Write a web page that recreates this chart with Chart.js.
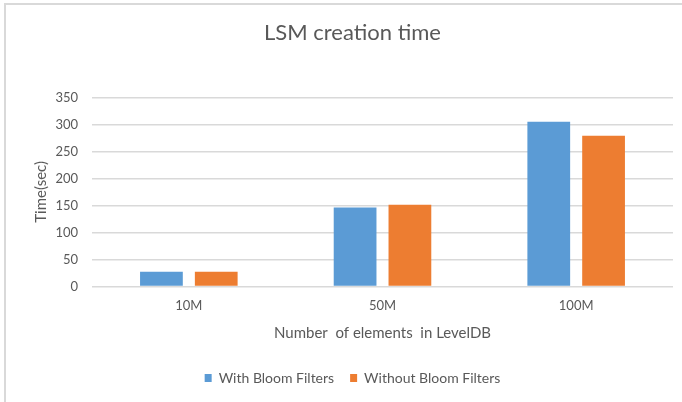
<!DOCTYPE html>
<html>
<head>
<meta charset="utf-8">
<script src="https://cdn.jsdelivr.net/npm/chart.js@4"></script>
<style>
  html, body { margin: 0; padding: 0; background: #ffffff; }
  #wrap { width: 682px; height: 402px; position: relative; }
</style>
</head>
<body>
<div id="wrap"><canvas id="c" width="682" height="402"></canvas></div>
<script>
// Categories and series
const categories = ['10M', '50M', '100M'];
const withBloom = [27, 146, 305];
const withoutBloom = [27, 151, 279];
const seriesNames = ['With Bloom Filters', 'Without Bloom Filters'];
const yTicks = [0, 50, 100, 150, 200, 250, 300, 350];

const textColor = '#595959';
const gridColor = '#d9d9d9';
const fontFamily = 'Lato, "Open Sans", sans-serif';

// Thin frame along the top and left edges of the chart area
const framePlugin = {
  id: 'frame',
  beforeDraw(chart) {
    const ctx = chart.ctx;
    ctx.save();
    ctx.fillStyle = '#ffffff';
    ctx.fillRect(0, 0, chart.width, chart.height);
    ctx.strokeStyle = '#d9d9d9';
    ctx.lineWidth = 2;
    ctx.beginPath();
    ctx.moveTo(5, chart.height);
    ctx.lineTo(5, 4);
    ctx.lineTo(chart.width, 4);
    ctx.stroke();
    ctx.restore();
  }
};

new Chart(document.getElementById('c'), {
  type: 'bar',
  data: {
    labels: categories,
    datasets: [
      { label: seriesNames[0], data: withBloom, backgroundColor: '#5b9bd5', borderWidth: 0 },
      { label: seriesNames[1], data: withoutBloom, backgroundColor: '#ed7d31', borderWidth: 0 }
    ]
  },
  options: {
    responsive: false,
    animation: false,
    devicePixelRatio: 1,
    layout: { padding: { left: 32, right: 9, top: 20, bottom: 7 } },
    datasets: { bar: { categoryPercentage: 0.566, barPercentage: 0.78 } },
    plugins: {
      title: {
        display: true,
        text: 'LSM creation time',
        color: textColor,
        font: { family: fontFamily, size: 22, weight: 'normal' },
        padding: { top: 0, bottom: 51 }
      },
      legend: {
        position: 'bottom',
        labels: {
          color: textColor,
          font: { family: fontFamily, size: 14 },
          boxWidth: 7,
          boxHeight: 8,
          padding: 16
        }
      },
      tooltip: { enabled: false }
    },
    scales: {
      x: {
        grid: { display: false, drawTicks: false },
        border: { display: false },
        ticks: { color: textColor, font: { family: fontFamily, size: 13 }, padding: 12 },
        title: {
          display: true,
          text: 'Number  of elements  in LevelDB',
          color: textColor,
          font: { family: fontFamily, size: 15, lineHeight: 1.0 },
          padding: { top: 0, bottom: 14 }
        }
      },
      y: {
        min: 0,
        max: 350,
        afterBuildTicks(axis) { axis.ticks = yTicks.map(v => ({ value: v })); },
        afterFit(axis) { axis.width = 60; },
        grid: { color: gridColor, lineWidth: 1.5, drawTicks: false },
        border: { display: false },
        ticks: { color: textColor, font: { family: fontFamily, size: 13 }, padding: 14 },
        title: {
          display: true,
          text: 'Time(sec)',
          color: textColor,
          font: { family: fontFamily, size: 15 },
          padding: { top: 0, bottom: 4 }
        }
      }
    }
  },
  plugins: [framePlugin]
});
</script>
</body>
</html>
